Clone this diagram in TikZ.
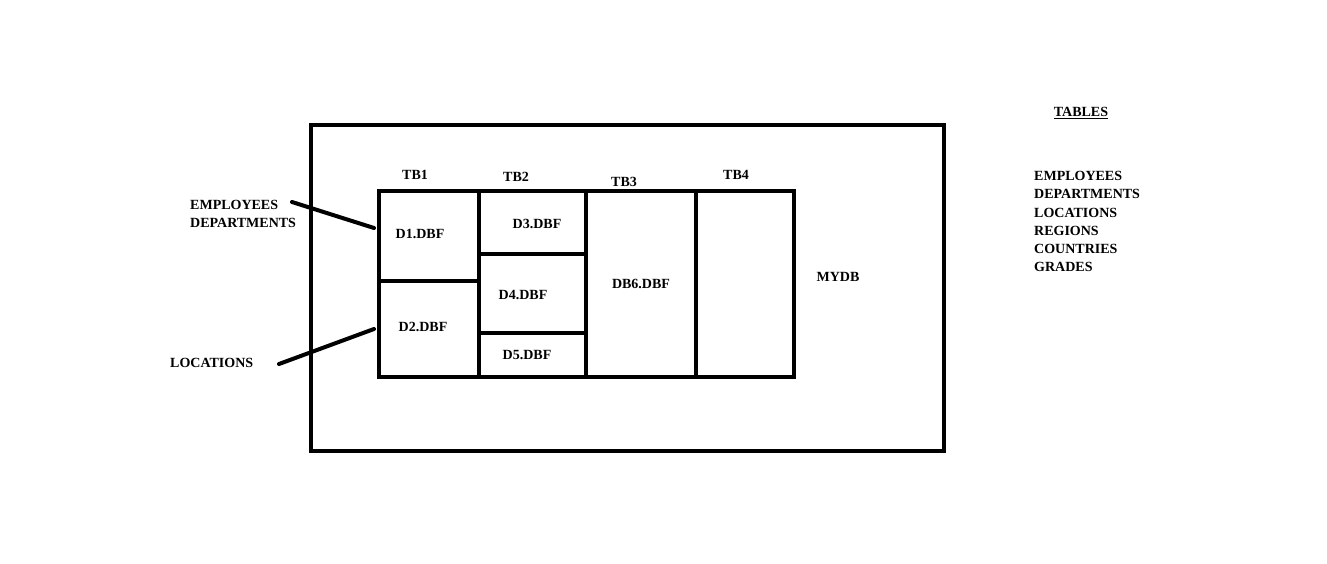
\documentclass[tikz,border=0pt]{standalone}
\usepackage{fontspec}
\setmainfont{Liberation Serif}
\usetikzlibrary{positioning}
\tikzset{
  wall/.style = {draw=black, line width=4pt},
  part/.style = {draw=black, line width=3.5pt},
  lbl/.style  = {font=\bfseries\fontsize{14}{16}\selectfont, inner sep=0pt},
  link/.style = {line width=4pt, line cap=round},
}

\begin{document}
\begin{tikzpicture}[x=1pt, y=-1pt]
  \useasboundingbox (0,0) rectangle (1327,564);

  % database and its tablespaces
  \draw[wall] (311,125) rectangle (944,451);
  \draw[wall] (379,191) rectangle (794,377);
  \draw[part] (479,191) -- (479,377);
  \draw[part] (586,191) -- (586,377);
  \draw[part] (696,191) -- (696,377);
  \draw[part] (379,281) -- (479,281);
  \draw[part] (479,254) -- (586,254);
  \draw[part] (479,333) -- (586,333);

  \node[lbl] (tb1) at (415,175) {TB1};
  \node[lbl] (tb2) at (516,177) {TB2};
  \node[lbl] (tb3) at (624,182) {TB3};
  \node[lbl] (tb4) at (736,175) {TB4};

  \node[lbl] (d1) at (420,234) {D1.DBF};
  \node[lbl] (d2) at (423,327) {D2.DBF};
  \node[lbl] (d3) at (537,224) {D3.DBF};
  \node[lbl] (d4) at (523,295) {D4.DBF};
  \node[lbl] (d5) at (527,355) {D5.DBF};
  \node[lbl] (db6) at (641,284) {DB6.DBF};
  \node[lbl] (mydb) at (838,277) {MYDB};

  % tables kept in the data files
  \node[lbl, anchor=base west] (emp) at (190,209) {EMPLOYEES};
  \node[lbl, anchor=base west] (dep) at (190,227) {DEPARTMENTS};
  \node[lbl, anchor=base west] (loc) at (170,367) {LOCATIONS};

  \coordinate (d1in) at (374,228);
  \coordinate (d2in) at (374,329);
  \coordinate (empout) at (292,202);
  \coordinate (locout) at (279,364);
  \draw[link] (empout) -- (d1in);
  \draw[link] (locout) -- (d2in);

  % list of tables
  \node[lbl] (tables) at (1081,113) {\underline{TABLES}};
  \node[lbl, anchor=base west] (t1) at (1034,181) {EMPLOYEES};
  \node[lbl, anchor=base west] (t2) at (1034,199) {DEPARTMENTS};
  \node[lbl, anchor=base west] (t3) at (1034,217) {LOCATIONS};
  \node[lbl, anchor=base west] (t4) at (1034,235) {REGIONS};
  \node[lbl, anchor=base west] (t5) at (1034,253) {COUNTRIES};
  \node[lbl, anchor=base west] (t6) at (1034,271) {GRADES};

\end{tikzpicture}
\end{document}
